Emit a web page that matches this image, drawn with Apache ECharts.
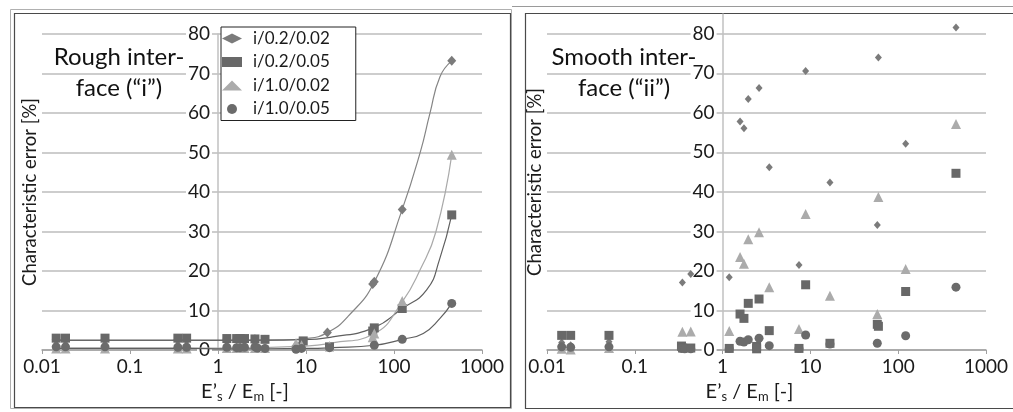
<!DOCTYPE html>
<html>
<head>
<meta charset="utf-8">
<script src="https://cdn.jsdelivr.net/npm/echarts@6/dist/echarts.min.js"></script>
<style>
html, body { margin: 0; padding: 0; background: #fff; }
#chart { width: 1013px; height: 412px; }
</style>
</head>
<body>
<div id="chart"></div>
<script>
// series names (legend)
const seriesNames = ['i/0.2/0.02', 'i/0.2/0.05', 'i/1.0/0.02', 'i/1.0/0.05'];
const xTicks = [0.01, 0.1, 1, 10, 100, 1000];

// rough interface ("i") - [E's/Em, error %]
const roughD = [[0.0145,2.6],[0.0185,2.6],[0.052,2.6],[0.35,2.6],[0.44,2.6],[1.26,2.7],[1.63,2.7],[1.78,2.7],[2.0,2.7],[2.63,2.7],[3.42,2.6],[7.7,1.0],[8.9,1.6],[17.5,4.4],[57.3,16.7],[59.7,17.3],[124,35.6],[453,73.2]];
const roughS = [[0.0145,3.0],[0.0185,3.0],[0.052,3.0],[0.35,3.0],[0.44,3.0],[1.26,2.9],[1.63,2.9],[1.78,2.9],[2.0,2.9],[2.63,2.8],[3.42,2.7],[9.3,2.3],[18.5,0.8],[57.3,4.8],[59.7,5.6],[124,10.5],[453,34.2]];
const roughT = [[0.0145,0.4],[0.0185,0.4],[0.052,0.4],[0.35,0.4],[0.44,0.4],[1.26,0.5],[1.63,0.5],[1.78,0.5],[2.0,0.5],[2.63,0.5],[3.42,0.5],[7.7,1.7],[8.9,1.2],[18.5,1.0],[57.3,3.2],[59.7,4.2],[124,12.4],[453,49.4]];
const roughC = [[0.0145,0.8],[0.0185,0.8],[0.052,0.8],[0.35,0.7],[0.44,0.7],[1.26,0.7],[1.63,0.6],[1.78,0.6],[2.0,0.7],[2.63,0.8],[2.8,0.5],[3.42,0.4],[7.7,0.2],[8.9,0.4],[18.5,0.6],[59.7,1.2],[124,2.7],[453,11.8]];

// trend lines of the rough panel
const roughDTrend = [[0.015,2.4],[0.44,2.4],[1.2,2.4],[5,2.5],[10,2.9],[17.5,4.4],[30,8.5],[60,17.3],[124,35.6],[200,50.3],[256,59.9],[333,69.2],[453,73.2]];
const roughSTrend = [[0.015,2.5],[0.44,2.5],[1.2,2.5],[9.3,2.6],[20,3.3],[58,5.6],[124,10.5],[235,15.2],[330,23],[453,34.2]];
const roughTTrend = [[0.015,0.5],[0.44,0.5],[1.2,0.5],[10,1.0],[20,1.8],[58,4.0],[124,12.2],[200,20.5],[300,30],[453,49.4]];
const roughCTrend = [[0.015,0.4],[0.44,0.4],[1.2,0.3],[10,0.4],[20,0.6],[60,1.2],[124,2.7],[215,4.2],[333,8.0],[453,11.8]];

// smooth interface ("ii")
const smoothD = [[0.0147,1.9],[0.0186,1.2],[0.0508,2.1],[0.348,17.1],[0.434,19.2],[1.19,18.4],[1.58,57.8],[1.75,56.1],[1.96,63.5],[2.6,66.3],[3.4,46.2],[7.41,21.5],[8.83,70.6],[16.7,42.4],[57.8,31.6],[59.5,74.0],[121.6,52.2],[455,81.6]];
const smoothS = [[0.0147,3.7],[0.0186,3.7],[0.0508,3.7],[0.34,1.0],[0.35,0.5],[0.434,0.5],[1.19,0.4],[1.58,9.1],[1.75,8.0],[1.96,11.8],[2.44,0.9],[2.44,0.3],[2.6,12.9],[3.4,4.9],[7.41,0.4],[8.83,16.5],[16.7,1.7],[57.8,6.5],[59.5,6.0],[121.6,14.8],[455,44.7]];
const smoothT = [[0.0147,0.3],[0.0186,0.1],[0.0508,0.5],[0.348,4.6],[0.434,4.7],[1.19,4.8],[1.58,23.5],[1.75,21.8],[1.96,28.0],[2.6,29.8],[3.4,15.9],[7.41,5.3],[8.83,34.4],[16.7,13.7],[57.8,9.1],[59.5,38.7],[121.6,20.5],[455,57.2]];
const smoothC = [[0.0147,0.8],[0.0186,0.7],[0.0508,0.8],[0.34,0.4],[0.37,0.3],[0.434,0.3],[1.19,0.4],[1.58,2.2],[1.75,2.0],[1.96,2.6],[2.44,0.6],[2.6,3.0],[3.4,1.1],[7.41,0.4],[8.83,3.8],[16.7,1.5],[57.8,1.7],[121.6,3.6],[455,15.9]];

const font = 'Lato, "Open Sans", sans-serif';
const colors = ['#7b7b7b', '#686868', '#ababab', '#6b6b6b'];
const lineColors = ['#858585', '#5f5f5f', '#a9a9a9', '#5f5f5f'];
const symbols = ['diamond', 'rect', 'triangle', 'circle'];
const sizes = [[9, 10], 9, 10, 9];
const smallSizes = [[7, 8], 9, 10, 9];

function makeX(gi) {
	return {
		type: 'log',
		logBase: 10,
		gridIndex: gi,
		min: 0.01,
		max: 1000,
		axisLine: { lineStyle: { color: '#a0a0a0', width: 1.5 } },
		axisTick: { show: true, length: 4, lineStyle: { color: '#a0a0a0' } },
		splitLine: { show: false },
		minorTick: { show: false },
		axisLabel: {
			color: '#1a1a1a', fontFamily: font, fontSize: 19, margin: 7,
			formatter: v => xTicks.indexOf(+v) >= 0 ? String(+v) : ''
		},
		name: "E’{sub|s} / E{sub|m} [-]",
		nameLocation: 'middle',
		nameGap: 31,
		nameTextStyle: {
			color: '#1a1a1a', fontFamily: font, fontSize: 20, padding: [0, 34, 0, 0],
			rich: { sub: { fontSize: 13, fontFamily: font, color: '#1a1a1a', padding: [9, 0, 0, 0] } }
		}
	};
}

function makeY(gi, max, offset) {
	return {
		type: 'value',
		gridIndex: gi,
		min: 0,
		max: max,
		interval: 10,
		offset: offset,
		axisLine: { show: true, lineStyle: { color: '#c0c0c0', width: 1.5 } },
		axisTick: { show: false },
		splitLine: {
			show: true,
			lineStyle: { color: max === 80 ? '#bdbdbd' : ['#bdbdbd','#bdbdbd','#bdbdbd','#bdbdbd','#bdbdbd','#bdbdbd','#bdbdbd','#bdbdbd','#bdbdbd','rgba(0,0,0,0)'], width: 1.5 }
		},
		axisLabel: {
			color: '#1a1a1a', fontFamily: font, fontSize: 19, margin: 6,
			backgroundColor: '#fff', padding: [0, 2, 0, 2],
			formatter: v => (v % 10 === 0 ? String(v) : '')
		},
		name: 'Characteristic error [%]',
		nameLocation: 'middle',
		nameGap: 178,
		nameTextStyle: { color: '#1a1a1a', fontFamily: font, fontSize: 18.5 }
	};
}

function scatter(name, data, gi, k, sz) {
	return {
		name: name, type: 'scatter', xAxisIndex: gi, yAxisIndex: gi,
		data: data, symbol: symbols[k], symbolSize: sz[k],
		itemStyle: { color: colors[k], opacity: 1 }, z: 3
	};
}

function trend(name, data, k) {
	return {
		name: name + ' trend', type: 'line', xAxisIndex: 0, yAxisIndex: 0,
		data: data, smooth: 0.5, showSymbol: false,
		lineStyle: { color: lineColors[k], width: 1.2 }, z: 2, silent: true
	};
}

const chart = echarts.init(document.getElementById('chart'), null, { renderer: 'canvas' });

const option = {
	animation: false,
	backgroundColor: '#fff',
	grid: [
		{ left: 42, right: 531, top: 34, bottom: 62 },
		{ left: 547, right: 27, top: 14, bottom: 62 }
	],
	xAxis: [makeX(0), makeX(1)],
	yAxis: [makeY(0, 80, -176), makeY(1, 85, -175.6)],
	legend: {
		data: seriesNames.map((n, k) => ({ name: n, icon: symbols[k], itemStyle: { color: colors[k] } })),
		orient: 'vertical',
		left: 221,
		top: 27,
		padding: [3, 26, 3, 1],
		itemWidth: 20,
		itemHeight: 10,
		itemGap: 6.5,
		borderColor: '#222',
		borderWidth: 1,
		backgroundColor: '#fff',
		textStyle: { color: '#1a1a1a', fontFamily: font, fontSize: 17, padding: [0, 0, 0, 6] }
	},
	graphic: [
		{ type: 'line', shape: { x1: 512, y1: 6.5, x2: 1013, y2: 6.5 }, style: { stroke: '#9a9a9a', lineWidth: 1 } },
		{ type: 'rect', shape: { x: 10.5, y: 9.5, width: 501, height: 399 }, style: { fill: 'none', stroke: '#b0b0b0', lineWidth: 1 } },
		{ type: 'rect', shape: { x: 14.5, y: 13.5, width: 496, height: 394 }, style: { fill: 'none', stroke: '#4a4a4a', lineWidth: 1.2 } },
		{ type: 'rect', shape: { x: 525.5, y: 13.5, width: 492, height: 395 }, style: { fill: 'none', stroke: '#4a4a4a', lineWidth: 1.2 } },
		{
			type: 'text', x: 119, y: 42,
			style: { text: 'Rough inter-\nface (“i”)', fill: '#111', font: '24px ' + font, align: 'center', lineHeight: 31 }
		},
		{
			type: 'text', x: 624, y: 42,
			style: { text: 'Smooth inter-\nface (“ii”)', fill: '#111', font: '24px ' + font, align: 'center', lineHeight: 31 }
		}
	],
	series: [
		trend(seriesNames[0], roughDTrend, 0),
		trend(seriesNames[1], roughSTrend, 1),
		trend(seriesNames[2], roughTTrend, 2),
		trend(seriesNames[3], roughCTrend, 3),
		scatter(seriesNames[0], roughD, 0, 0, sizes),
		scatter(seriesNames[1], roughS, 0, 1, sizes),
		scatter(seriesNames[2], roughT, 0, 2, sizes),
		scatter(seriesNames[3], roughC, 0, 3, sizes),
		scatter(seriesNames[0], smoothD, 1, 0, smallSizes),
		scatter(seriesNames[1], smoothS, 1, 1, smallSizes),
		scatter(seriesNames[2], smoothT, 1, 2, smallSizes),
		scatter(seriesNames[3], smoothC, 1, 3, smallSizes)
	]
};

chart.setOption(option);
</script>
</body>
</html>
